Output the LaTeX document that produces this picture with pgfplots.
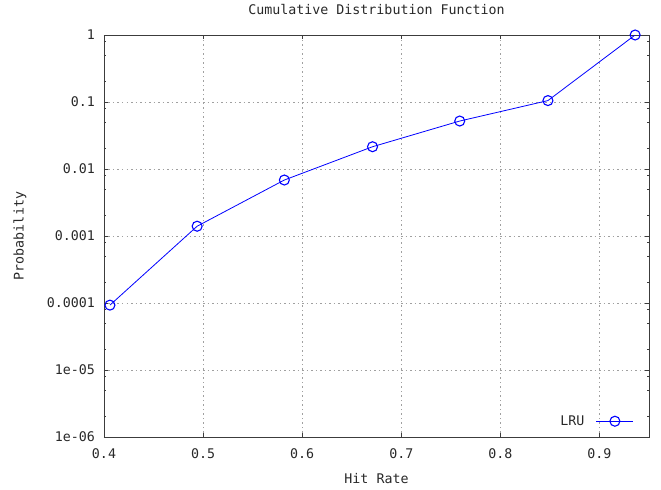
\documentclass[border=0pt]{standalone}
\usepackage{fontspec}
\setmainfont{DejaVu Sans Mono}
\usepackage{pgfplots}
\pgfplotsset{compat=1.18}
\definecolor{txt}{RGB}{40,40,40}
\definecolor{frame}{RGB}{60,60,60}
\definecolor{gridc}{RGB}{160,160,160}
\begin{document}
\begin{tikzpicture}[font=\fontsize{13.3bp}{16bp}\selectfont]
\begin{axis}[
  scale only axis,
  width=545bp, height=402bp,
  xmin=0.4, xmax=0.95,
  ymin=1e-6, ymax=1,
  ymode=log,
  /pgf/number format/assume math mode=true,
  axis line style={frame, line width=0.8bp},
  every tick/.style={frame, line width=0.8bp},
  tick align=inside,
  major tick length=4bp,
  minor tick length=2.5bp,
  xtick={0.4,0.5,0.6,0.7,0.8,0.9},
  xticklabels={0.4,0.5,0.6,0.7,0.8,0.9},
  ytick={1e-6,1e-5,1e-4,1e-3,1e-2,1e-1,1},
  yticklabels={1e-06,1e-05,0.0001,0.001,0.01,0.1,1},
  minor ytick={2e-6,5e-6,8e-6,2e-5,5e-5,8e-5,2e-4,5e-4,8e-4,0.002,0.005,0.008,0.02,0.05,0.08,0.2,0.5,0.8},
  xticklabel style={txt, anchor=base, yshift=-21bp, inner sep=0pt},
  yticklabel style={txt, anchor=east, xshift=-9bp, inner sep=0pt},
  grid=major,
  major grid style={gridc, line width=0.8bp, dash pattern=on 1.5bp off 3bp},
  title={Cumulative Distribution Function},
  title style={txt, at={(axis description cs:0.5,1)}, anchor=base, yshift=15bp, inner sep=0pt},
  xlabel={Hit Rate},
  xlabel style={txt, at={(axis description cs:0.5,0)}, anchor=base, yshift=-46bp, inner sep=0pt},
  ylabel={Probability},
  ylabel style={txt, at={(axis description cs:0,0.5)}, anchor=center, yshift=84bp, inner sep=0pt},
  legend style={draw=none, fill=none, at={(axis description cs:1,0)}, anchor=south east, xshift=-12bp, yshift=6bp, font=\fontsize{13.3bp}{16bp}\selectfont, text=txt},
  legend plot pos=right,
  legend cell align=right,
  legend image code/.code={%
    \path[draw=none] (0bp,-3bp) rectangle (47bp,3bp);
    \draw[#1, mark=none] (10bp,0bp) -- (47bp,0bp);
    \path[#1, draw=none] plot[only marks] coordinates {(28.5bp,0bp)};},
]
\addplot[blue, line width=0.8bp, mark=o, mark size=5bp, mark options={line width=1.1bp, solid, draw=blue}]
  coordinates {
    (0.406, 9.3e-5)
    (0.494, 1.4e-3)
    (0.582, 6.85e-3)
    (0.671, 0.0215)
    (0.759, 0.052)
    (0.848, 0.105)
    (0.936, 1)
  };
\addlegendentry{LRU}
\end{axis}
\pgfresetboundingbox
\path (current axis.south west) ++(-104bp,-52bp) coordinate (bbsw);
\path (current axis.north east) ++(12bp,35bp) coordinate (bbne);
\path (bbsw) rectangle (bbne);
\end{tikzpicture}
\end{document}
